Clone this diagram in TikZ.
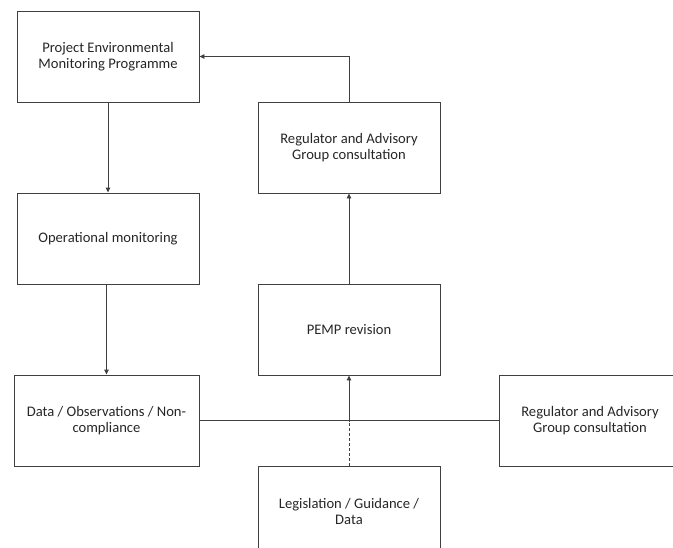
\documentclass[tikz,border=0pt]{standalone}
\usepackage{fontspec}
\setmainfont{Carlito}
\usetikzlibrary{arrows.meta}
\definecolor{edge}{HTML}{404040}
\begin{document}
\begin{tikzpicture}[x=1pt,y=-1pt,
  box/.style={draw=edge, line width=0.9pt, minimum width=182pt, minimum height=91pt,
    align=center, font=\fontsize{14.6}{15.5}\selectfont, inner sep=2pt, text=black!85},
  link/.style={draw=edge, line width=0.9pt},
  arr/.style={link, -{Triangle[length=5pt,width=4.5pt]}}]
\useasboundingbox (0,0) rectangle (673,547);
\clip (0,0) rectangle (673,547);
\node[box] (pemp0) at (108,56.5) {Project Environmental\\Monitoring Programme};
\node[box] (ops) at (108,238.5) {Operational monitoring};
\node[box, minimum width=185pt] (data) at (106.5,420.5) {Data / Observations / Non-\\compliance};
\node[box] (reg1) at (349,147.5) {Regulator and Advisory\\Group consultation};
\node[box] (rev) at (349,329.5) {PEMP revision};
\node[box] (reg2) at (590,420.5) {Regulator and Advisory\\Group consultation};
\node[box] (leg) at (349,511.5) {Legislation / Guidance /\\Data};
\coordinate (junc) at (rev.south |- data.east);
\draw[arr] (pemp0.south) -- (ops.north);
\draw[arr] (data.north |- ops.south) -- (data.north);
\draw[arr] (reg1.north) |- (pemp0.east);
\draw[arr] (rev.north) -- (reg1.south);
\draw[link] (data.east) -- (reg2.west);
\draw[arr] (junc) -- (rev.south);
\draw[link, dashed, dash pattern=on 3pt off 2pt] (leg.north) -- (junc);
\end{tikzpicture}
\end{document}
